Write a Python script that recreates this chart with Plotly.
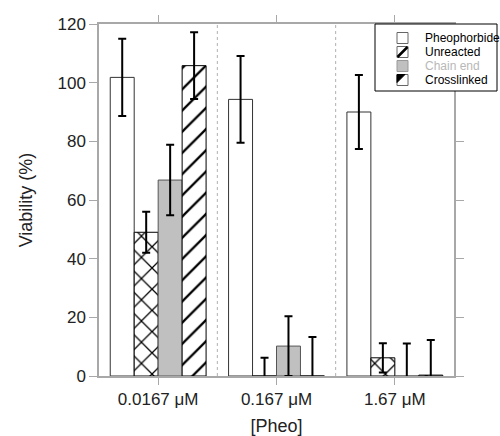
import plotly.graph_objects as go

categories = ["0.0167 μM", "0.167 μM", "1.67 μM"]
series_names = ["Pheophorbide", "Unreacted", "Chain end", "Crosslinked"]
pheophorbide = [101.8, 94.3, 90.0]
pheophorbide_err = [13.2, 14.8, 12.6]
unreacted = [49.0, 0.0, 6.2]
unreacted_err = [7.0, 6.2, 5.0]
chain_end = [66.8, 10.2, 0.0]
chain_end_err = [12.0, 10.2, 11.1]
crosslinked = [105.8, 0.0, 0.3]
crosslinked_err = [11.4, 13.3, 12.0]
y_ticks = [0, 20, 40, 60, 80, 100, 120]

FONT = "Liberation Sans, Arial, sans-serif"
x = list(range(len(categories)))

# plot area in pixels (for the hand-drawn legend)
L, R, T, B = 99, 454, 24, 376
W, H = 500, 436

def px(v):
    return (v - L) / (R - L)

def py(v):
    return (B - v) / (B - T)

def err(v):
    return dict(type="data", array=v, visible=True, color="black", thickness=2, width=4)

fig = go.Figure()
fig.add_trace(go.Bar(
    x=x, y=pheophorbide, name=series_names[0], error_y=err(pheophorbide_err),
    marker=dict(color="white", line=dict(color="#333333", width=1))))
fig.add_trace(go.Bar(
    x=x, y=unreacted, name=series_names[1], error_y=err(unreacted_err),
    marker=dict(color="white", line=dict(color="black", width=1),
                pattern=dict(shape="x", fgcolor="black", bgcolor="white", fgopacity=1,
                             size=15, solidity=0.16))))
fig.add_trace(go.Bar(
    x=x, y=chain_end, name=series_names[2], error_y=err(chain_end_err),
    marker=dict(color="#c0c0c0", line=dict(color="#555555", width=1))))
fig.add_trace(go.Bar(
    x=x, y=crosslinked, name=series_names[3], error_y=err(crosslinked_err),
    marker=dict(color="white", line=dict(color="black", width=1),
                pattern=dict(shape="/", fgcolor="black", bgcolor="white", fgopacity=1,
                             size=15, solidity=0.15))))

for b in [0.5, 1.5]:
    fig.add_shape(type="line", xref="x", yref="paper", x0=b, x1=b, y0=0, y1=1,
                  line=dict(color="#b0b0b0", width=1, dash="dot"), layer="below")

# legend drawn by hand to match the compact reference legend
fig.add_shape(type="rect", xref="paper", yref="paper",
              x0=px(375), x1=px(497), y0=py(91), y1=py(24),
              line=dict(color="black", width=1), fillcolor="white", layer="above")
row_y = [38, 52, 66, 80]
sq0, sq1 = 397, 408
fills = ["white", "white", "#c0c0c0", "white"]
lines = ["#666666", "#666666", "#999999", "#666666"]
text_colors = ["black", "black", "#b8b8b8", "black"]
for i, name in enumerate(series_names):
    yc = row_y[i]
    fig.add_shape(type="rect", xref="paper", yref="paper",
                  x0=px(sq0), x1=px(sq1), y0=py(yc + 5.5), y1=py(yc - 5.5),
                  line=dict(color=lines[i], width=1), fillcolor=fills[i], layer="above")
    fig.add_annotation(xref="paper", yref="paper", x=px(423), y=py(yc), text=name,
                       showarrow=False, xanchor="left", yanchor="middle",
                       font=dict(family=FONT, size=12, color=text_colors[i]))
# Unreacted symbol: thick diagonal
yc = row_y[1]
fig.add_shape(type="line", xref="paper", yref="paper",
              x0=px(sq0 + 0.5), y0=py(yc + 5), x1=px(sq1 - 0.5), y1=py(yc - 5),
              line=dict(color="black", width=2.5), layer="above")
# Crosslinked symbol: filled corner triangle
yc = row_y[3]
fig.add_shape(type="path", xref="paper", yref="paper",
              path="M {} {} L {} {} L {} {} Z".format(px(sq0), py(yc - 5.5), px(sq0 + 8), py(yc - 5.5),
                                                   px(sq0), py(yc + 2.5)),
              line=dict(color="black", width=1), fillcolor="black", layer="above")

axis_common = dict(showline=True, linecolor="#a8a8a8", linewidth=1.5, mirror="ticks",
                   ticks="outside", tickcolor="#a8a8a8", tickwidth=1, automargin=False,
                   tickfont=dict(family=FONT, size=17, color="#222222"), zeroline=False, showgrid=False)

fig.update_layout(
    width=W, height=H,
    margin=dict(l=L, r=W - R, t=T, b=H - B),
    paper_bgcolor="white", plot_bgcolor="white",
    barmode="group", bargap=0.19, bargroupgap=0,
    font=dict(family=FONT, color="#222222"),
    showlegend=False,
    xaxis=dict(**axis_common, tickmode="array", tickvals=x, ticktext=categories,
               range=[-0.5, 2.5], ticklen=7,
               title=dict(text="[Pheo]", font=dict(family=FONT, size=18, color="#222222"), standoff=16)),
    yaxis=dict(**axis_common, range=[0, 120], tickvals=y_ticks, ticklen=8,
               title=dict(text="Viability (%)", font=dict(family=FONT, size=18, color="#222222"), standoff=20)),
)

fig.write_html("out.html")
